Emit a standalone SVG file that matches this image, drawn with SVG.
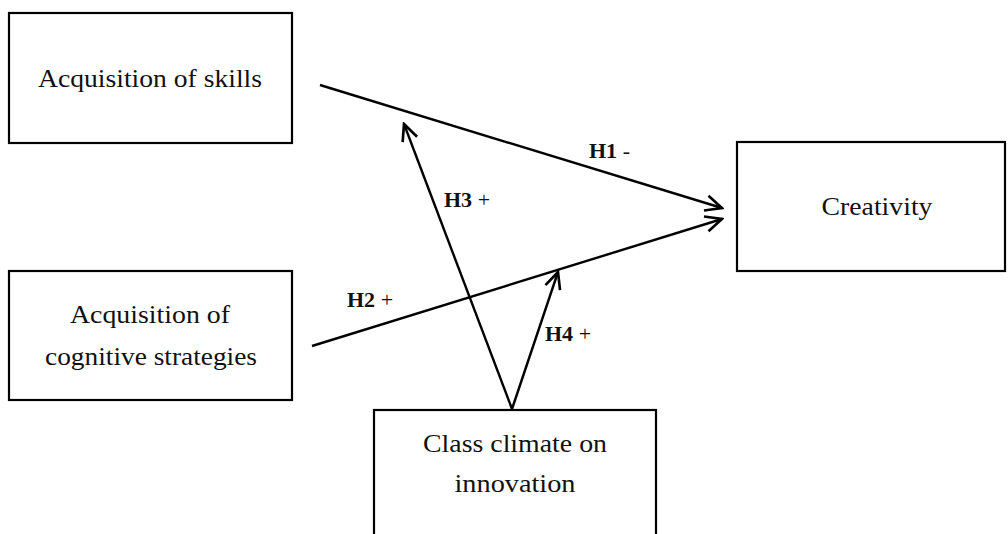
<svg xmlns="http://www.w3.org/2000/svg" width="1008" height="534" viewBox="0 0 1008 534">
<style>
.box{fill:#fff;stroke:#000;stroke-width:2.2}
.t{font-family:"Liberation Serif","Times New Roman",serif;font-size:25px;fill:#111;text-anchor:middle}
.lbl{font-family:"Liberation Serif","Times New Roman",serif;font-size:22px;fill:#111}
.lbl .b{font-weight:bold}
.edge{stroke:#000;stroke-width:2.4;fill:none;marker-end:url(#arr)}
</style>
<defs>
<marker id="arr" viewBox="0 0 20 20" refX="18" refY="10" markerWidth="22" markerHeight="22" markerUnits="userSpaceOnUse" orient="auto">
<path d="M3,3 L18,10 L3,17" fill="none" stroke="#000" stroke-width="2.4"/>
</marker>
</defs>
<rect width="1008" height="534" fill="#fff"/>
<g id="connectors">
<line class="edge" x1="320" y1="85" x2="722" y2="208"/>
<line class="edge" x1="312" y1="346" x2="722" y2="219"/>
<line class="edge" x1="512" y1="409" x2="404" y2="124"/>
<line class="edge" x1="512" y1="409" x2="558" y2="272"/>
</g>
<g id="labels">
<text class="lbl" x="589" y="158"><tspan class="b">H1</tspan> -</text>
<text class="lbl" x="444" y="207"><tspan class="b">H3</tspan> +</text>
<text class="lbl" x="347" y="307"><tspan class="b">H2</tspan> +</text>
<text class="lbl" x="545" y="341"><tspan class="b">H4</tspan> +</text>
</g>
<g id="skills">
<rect class="box" x="9" y="13" width="283" height="130"/>
<text class="t" x="150" y="87" textLength="224" lengthAdjust="spacingAndGlyphs">Acquisition of skills</text>
</g>
<g id="cognitive">
<rect class="box" x="9" y="271" width="283" height="129"/>
<text class="t" x="150" y="323" textLength="160" lengthAdjust="spacingAndGlyphs">Acquisition of</text>
<text class="t" x="151" y="365" textLength="212" lengthAdjust="spacingAndGlyphs">cognitive strategies</text>
</g>
<g id="creativity">
<rect class="box" x="737" y="142" width="268" height="129"/>
<text class="t" x="877" y="215" textLength="111" lengthAdjust="spacingAndGlyphs">Creativity</text>
</g>
<g id="climate">
<rect class="box" x="374" y="410" width="282" height="130"/>
<text class="t" x="515" y="452" textLength="184" lengthAdjust="spacingAndGlyphs">Class climate on</text>
<text class="t" x="515" y="492" textLength="121" lengthAdjust="spacingAndGlyphs">innovation</text>
</g>
</svg>
